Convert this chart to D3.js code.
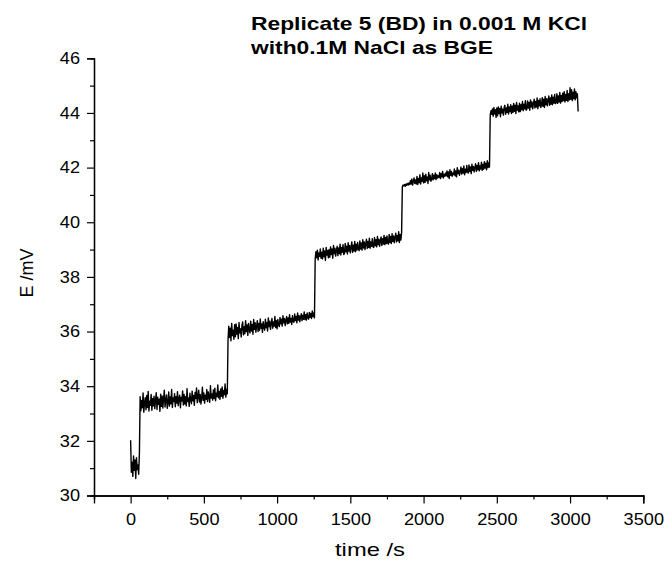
<!DOCTYPE html>
<html>
<head>
<meta charset="utf-8">
<script src="https://cdn.jsdelivr.net/npm/d3@7"></script>
<style>
  html, body { margin: 0; padding: 0; background: #fff; }
  svg { display: block; font-family: "Liberation Sans", Arial, sans-serif; }
</style>
</head>
<body>
<svg id="chart" width="671" height="564"></svg>
<script>
// Potentiometric trace: E (mV) versus time (s), sampled every 5 s.
// Each array is one plateau, recorded after a successive addition.
const sampleInterval = 5;

const stepStarts = [0, 65, 665, 1260, 1855, 2455];

const plateau0 = [32.02, 30.85, 31.22, 30.70, 31.45, 30.92, 31.30, 30.62, 31.38, 30.95, 31.12, 30.78, 31.55];

const plateau1 = [
  33.62, 33.10, 33.48, 33.21, 33.75, 33.05, 33.39, 33.58, 33.14, 33.66,
  33.22, 33.81, 33.09, 33.45, 33.30, 33.70, 33.12, 33.55, 33.28, 33.63,
  33.18, 33.49, 33.76, 33.15, 33.60, 33.34, 33.52, 33.08, 33.71, 33.26,
  33.64, 33.20, 33.55, 33.85, 33.24, 33.48, 33.68, 33.19, 33.40, 33.79,
  33.27, 33.61, 33.36, 33.88, 33.22, 33.57, 33.44, 33.73, 33.25, 33.62,
  33.38, 33.80, 33.29, 33.54, 33.67, 33.21, 33.59, 33.46, 33.83, 33.31,
  33.70, 33.35, 33.62, 33.28, 33.91, 33.44, 33.57, 33.26, 33.74, 33.50,
  33.36, 33.82, 33.47, 33.66, 33.30, 33.77, 33.55, 33.94, 33.40, 33.63,
  33.85, 33.42, 33.70, 33.35, 33.58, 33.96, 33.48, 33.75, 33.38, 33.67,
  33.52, 33.88, 33.44, 33.79, 33.60, 33.41, 34.02, 33.57, 33.72, 33.49,
  33.86, 33.55, 33.93, 33.47, 33.74, 33.62, 34.05, 33.58, 33.81, 33.52,
  33.90, 33.63, 33.97, 33.56, 33.84, 33.69, 34.08, 33.60, 33.88, 33.72
];

const plateau2 = [
  35.70, 36.20, 35.78, 36.12, 35.66, 36.30, 35.85, 36.05, 35.72, 36.25,
  35.81, 36.28, 35.90, 36.15, 35.74, 36.33, 35.95, 36.10, 35.80, 36.22,
  36.35, 35.88, 36.18, 35.92, 36.40, 36.00, 36.24, 35.86, 36.30, 36.05,
  35.95, 36.38, 36.02, 36.26, 35.90, 36.44, 36.08, 36.32, 35.98, 36.20,
  36.40, 36.00, 36.30, 36.05, 36.46, 36.12, 36.28, 35.97, 36.36, 36.15,
  36.05, 36.45, 36.14, 36.33, 36.02, 36.50, 36.18, 36.38, 36.08, 36.30,
  36.48, 36.12, 36.35, 36.20, 36.55, 36.15, 36.40, 36.10, 36.44, 36.25,
  36.18, 36.52, 36.28, 36.45, 36.20, 36.58, 36.32, 36.48, 36.22, 36.40,
  36.55, 36.28, 36.50, 36.30, 36.62, 36.35, 36.48, 36.26, 36.58, 36.38,
  36.34, 36.64, 36.40, 36.55, 36.32, 36.68, 36.42, 36.58, 36.36, 36.52,
  36.65, 36.40, 36.60, 36.45, 36.72, 36.44, 36.62, 36.42, 36.68, 36.50,
  36.45, 36.70, 36.52, 36.66, 36.48, 36.75, 36.55, 36.68, 36.50
];

const plateau3 = [
  38.65, 38.92, 38.70, 38.98, 38.62, 38.88, 38.75, 39.02, 38.68, 38.90,
  38.66, 39.05, 38.74, 38.95, 38.60, 39.08, 38.80, 38.97, 38.70, 39.00,
  38.72, 39.10, 38.82, 39.02, 38.68, 39.15, 38.85, 39.05, 38.76, 38.98,
  39.12, 38.78, 39.06, 38.85, 39.20, 38.80, 39.08, 38.90, 39.18, 38.82,
  38.86, 39.22, 38.92, 39.12, 38.84, 39.25, 38.95, 39.15, 38.88, 39.10,
  39.28, 38.90, 39.16, 38.95, 39.30, 38.92, 39.20, 38.98, 39.26, 39.02,
  38.96, 39.32, 39.02, 39.24, 38.98, 39.36, 39.06, 39.28, 39.00, 39.22,
  39.38, 39.04, 39.30, 39.08, 39.42, 39.05, 39.28, 39.12, 39.40, 39.10,
  39.08, 39.44, 39.14, 39.36, 39.10, 39.48, 39.18, 39.38, 39.12, 39.32,
  39.46, 39.15, 39.40, 39.20, 39.52, 39.18, 39.44, 39.22, 39.50, 39.24,
  39.20, 39.55, 39.26, 39.48, 39.22, 39.58, 39.30, 39.50, 39.25, 39.45,
  39.60, 39.28, 39.52, 39.32, 39.65, 39.26, 39.55, 39.35, 39.62
];

const plateau4 = [
  41.30, 41.36, 41.33, 41.38, 41.32, 41.40, 41.35, 41.42, 41.36, 41.44,
  41.38, 41.52, 41.40, 41.58, 41.36, 41.50, 41.62, 41.42, 41.55, 41.40,
  41.68, 41.38, 41.60, 41.45, 41.74, 41.40, 41.62, 41.50, 41.80, 41.44,
  41.70, 41.46, 41.76, 41.52, 41.66, 41.42, 41.82, 41.55, 41.72, 41.50,
  41.58, 41.78, 41.55, 41.72, 41.60, 41.80, 41.56, 41.74, 41.62, 41.70,
  41.64, 41.82, 41.60, 41.78, 41.66, 41.86, 41.62, 41.76, 41.68, 41.80,
  41.70, 41.88, 41.66, 41.84, 41.60, 41.92, 41.72, 41.86, 41.68, 41.80,
  41.74, 41.95, 41.70, 41.88, 41.66, 42.00, 41.78, 41.90, 41.72, 41.86,
  42.02, 41.76, 41.96, 41.80, 42.06, 41.74, 41.94, 41.82, 42.08, 41.84,
  41.80, 42.10, 41.86, 42.02, 41.78, 42.12, 41.90, 42.04, 41.84, 42.00,
  42.14, 41.86, 42.08, 41.92, 42.18, 41.88, 42.06, 41.95, 42.20, 41.90,
  42.12, 41.94, 42.22, 41.98, 42.16, 41.92, 42.25, 42.00, 42.18, 42.02
];

const plateau5 = [
  43.92, 44.08, 43.95, 44.15, 43.88, 44.20, 43.96, 44.12, 43.84, 44.18,
  43.90, 44.22, 43.98, 44.16, 43.86, 44.25, 44.00, 44.14, 43.92, 44.20,
  44.28, 43.95, 44.18, 44.02, 44.32, 43.96, 44.22, 44.05, 44.30, 43.98,
  44.25, 44.02, 44.35, 44.06, 44.28, 43.98, 44.38, 44.10, 44.26, 44.04,
  44.36, 44.05, 44.30, 44.12, 44.42, 44.08, 44.32, 44.15, 44.45, 44.10,
  44.14, 44.44, 44.18, 44.38, 44.10, 44.48, 44.22, 44.40, 44.15, 44.35,
  44.50, 44.18, 44.42, 44.22, 44.55, 44.16, 44.46, 44.26, 44.52, 44.20,
  44.28, 44.56, 44.24, 44.50, 44.20, 44.60, 44.30, 44.52, 44.26, 44.48,
  44.62, 44.28, 44.55, 44.32, 44.66, 44.30, 44.58, 44.36, 44.68, 44.34,
  44.38, 44.70, 44.35, 44.62, 44.40, 44.75, 44.36, 44.64, 44.42, 44.72,
  44.45, 44.78, 44.40, 44.68, 44.46, 44.82, 44.42, 44.70, 44.48, 44.92,
  44.50, 44.85, 44.45, 44.76, 44.52, 44.88, 44.48, 44.78, 44.55, 44.70,
  44.05
];

const plateaus = [plateau0, plateau1, plateau2, plateau3, plateau4, plateau5];

const xTicks = [0, 500, 1000, 1500, 2000, 2500, 3000, 3500];
const yTicks = [30, 32, 34, 36, 38, 40, 42, 44, 46];
const titleLines = ["Replicate 5 (BD) in 0.001 M KCl", "with0.1M NaCl as BGE"];

// Flatten plateaus into [time, E] samples
const series = [];
plateaus.forEach((vals, k) => {
  vals.forEach((v, i) => series.push([stepStarts[k] + i * sampleInterval, v]));
});

const svg = d3.select("#chart");
const x = d3.scaleLinear().domain([-250, 3500]).range([94, 643.3]);
const y = d3.scaleLinear().domain([30, 46]).range([495.5, 58.3]);

// Widen glyphs a little (the chart's lettering is slightly expanded)
function widen(sel, factor) {
  sel.each(function () {
    const w = this.getComputedTextLength();
    d3.select(this).attr("textLength", w * factor).attr("lengthAdjust", "spacingAndGlyphs");
  });
}

// Trace
svg.append("path")
  .datum(series)
  .attr("fill", "none")
  .attr("stroke", "#000")
  .attr("stroke-width", 1.4)
  .attr("stroke-linejoin", "round")
  .attr("d", d3.line().x(d => x(d[0])).y(d => y(d[1])));

// Minor ticks (half-step between labelled ticks)
const xMinor = d3.range(-250, 3500, 500);
const yMinor = d3.range(31, 46, 2);

const xAxis = svg.append("g").attr("transform", `translate(0,${y(30)})`);
xAxis.call(d3.axisBottom(x).tickValues(xMinor).tickSize(4).tickFormat(""));
xAxis.call(g => g.append("g").call(d3.axisBottom(x).tickValues(xTicks).tickSize(8).tickPadding(10).tickFormat(d3.format("d"))));

const yAxis = svg.append("g").attr("transform", `translate(${x(-250)},0)`);
yAxis.call(d3.axisLeft(y).tickValues(yMinor).tickSize(4).tickFormat(""));
yAxis.call(g => g.append("g").call(d3.axisLeft(y).tickValues(yTicks).tickSize(7).tickPadding(7).tickFormat(d3.format("d"))));

svg.selectAll(".domain").attr("stroke", "#000").attr("stroke-width", 1.3);
svg.selectAll(".tick line").attr("stroke", "#000").attr("stroke-width", 1.2);
const tickText = svg.selectAll(".tick text")
  .attr("fill", "#000")
  .style("font-size", "16.5px")
  .style("font-family", "'Liberation Sans', Arial, sans-serif");
widen(tickText, 1.1);
// Remove the duplicate domain paths of the inner axis groups
xAxis.select("g").select(".domain").remove();
yAxis.select("g").select(".domain").remove();

// Axis titles
svg.append("text")
  .attr("x", 370).attr("y", 556)
  .attr("text-anchor", "middle")
  .style("font-size", "19px")
  .attr("textLength", 70)
  .attr("lengthAdjust", "spacingAndGlyphs")
  .text("time /s");

svg.append("text")
  .attr("transform", `translate(33,273) rotate(-90)`)
  .attr("text-anchor", "middle")
  .style("font-size", "18px")
  .text("E /mV");

// Chart title
const titleWidths = [336, 242];
svg.append("g")
  .selectAll("text")
  .data(titleLines)
  .join("text")
  .attr("x", 251)
  .attr("y", (d, i) => 30 + i * 23.5)
  .style("font-size", "19px")
  .style("font-weight", "bold")
  .attr("textLength", (d, i) => titleWidths[i])
  .attr("lengthAdjust", "spacingAndGlyphs")
  .text(d => d);
</script>
</body>
</html>
